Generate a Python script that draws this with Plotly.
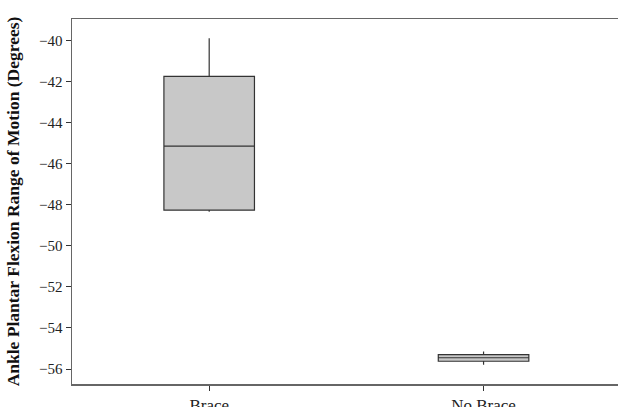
import plotly.graph_objects as go

categories = ["Brace", "No Brace"]
q1 = [-48.26, -55.62]
median = [-45.14, -55.45]
q3 = [-41.74, -55.30]
lowerfence = [-48.34, -55.79]
upperfence = [-39.88, -55.15]
y_ticks = [-40, -42, -44, -46, -48, -50, -52, -54, -56]

fig = go.Figure()
fig.add_trace(go.Box(
    x=categories, q1=q1, median=median, q3=q3,
    lowerfence=lowerfence, upperfence=upperfence,
    fillcolor="#c8c8c8", line=dict(color="#333333", width=1.2),
    whiskerwidth=0, width=0.33, boxpoints=False, showlegend=False,
    hoverinfo="skip",
))

font = "Liberation Serif"
fig.update_layout(
    width=618, height=407,
    margin=dict(l=72, r=0, t=19, b=23, autoexpand=False),
    paper_bgcolor="white", plot_bgcolor="white",
    font=dict(family=font, color="#222222", size=15),
    xaxis=dict(
        type="category", range=[-0.5, 1.49], automargin=False,
        showline=True, linecolor="#666666", linewidth=1.5, mirror=True,
        ticks="outside", ticklen=5, tickcolor="#333333",
        tickfont=dict(family=font, size=17, color="#222222"),
        showgrid=False, zeroline=False,
    ),
    yaxis=dict(
        range=[-56.73, -38.94], tickvals=y_ticks, automargin=False,
        ticktext=[f"\u2212{abs(v)}" for v in y_ticks],
        showline=True, linecolor="#666666", linewidth=1.5, mirror=False,
        ticks="outside", ticklen=5, tickcolor="#333333",
        tickfont=dict(family=font, size=15, color="#222222"),
        showgrid=False, zeroline=False,
        title=dict(text="<b>Ankle Plantar Flexion Range of Motion (Degrees)</b>",
                   font=dict(family=font, size=17.5, color="#111111")),
    ),
)
fig.write_html(
    "out.html",
    config={"displayModeBar": False, "staticPlot": True},
    post_script=(
        "document.documentElement.style.overflow='hidden';"
        "document.body.style.overflow='hidden';"
        "document.body.style.margin='0';"
        "document.body.style.padding='0';"
    ),
)
